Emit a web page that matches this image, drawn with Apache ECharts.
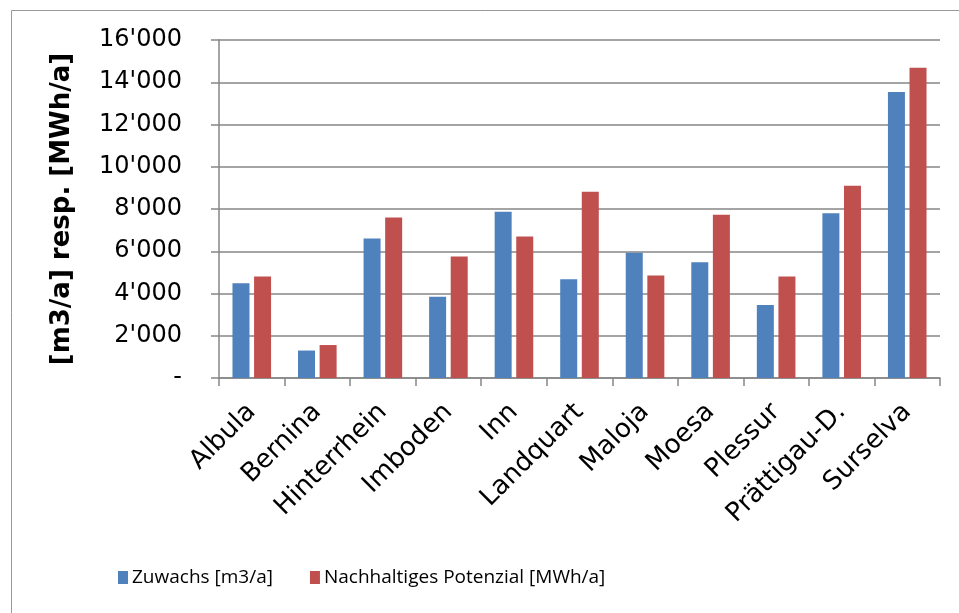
<!DOCTYPE html>
<html>
<head>
<meta charset="utf-8">
<script src="https://cdn.jsdelivr.net/npm/echarts@6/dist/echarts.min.js"></script>
<style>html,body{margin:0;padding:0;background:#fff}#c{width:959px;height:613px}</style>
</head>
<body>
<div id="c"></div>
<script>
const categories = ['Albula','Bernina','Hinterrhein','Imboden','Inn','Landquart','Maloja','Moesa','Plessur','Prättigau-D.','Surselva'];
const zuwachs = [4490, 1300, 6600, 3850, 7870, 4680, 5930, 5480, 3460, 7800, 13540];
const potenzial = [4800, 1560, 7600, 5750, 6700, 8820, 4850, 7730, 4800, 9100, 14690];
const seriesNames = ['Zuwachs [m3/a]', 'Nachhaltiges Potenzial [MWh/a]'];
const yAxisName = '[m3/a] resp. [MWh/a]';

const chart = echarts.init(document.getElementById('c'), null, {renderer: 'canvas'});
const fmt = v => v === 0 ? '-' : String(v).replace(/\B(?=(\d{3})+(?!\d))/g, "'");
const axisGray = '#868686';
chart.setOption({
  animation: false,
  backgroundColor: '#fff',
  graphic: [{
    type: 'rect', left: 9, top: 8, silent: true,
    shape: {x: 0.5, y: 0.5, width: 980, height: 640},
    style: {fill: 'none', stroke: '#999', lineWidth: 1}
  }],
  grid: {left: 219, top: 40, right: 19, bottom: 235, containLabel: false},
  legend: {
    data: seriesNames, left: 113, top: 563, itemWidth: 10, itemHeight: 13, itemGap: 37,
    icon: 'rect',
    textStyle: {fontFamily: 'Open Sans', fontSize: 19, color: '#000', padding: [0,0,0,-1]}
  },
  xAxis: {
    type: 'category', data: categories,
    axisLine: {lineStyle: {color: axisGray, width: 1.5}},
    axisTick: {show: true, length: 8, lineStyle: {color: axisGray, width: 1.5}},
    axisLabel: {rotate: 45, margin: 30, interval: 0, fontFamily: 'DejaVu Sans', fontSize: 26, color: '#000'}
  },
  yAxis: {
    type: 'value', min: 0, max: 16000, interval: 2000,
    name: yAxisName, nameLocation: 'middle', nameGap: 144, nameRotate: 90,
    nameTextStyle: {fontFamily: 'DejaVu Sans', fontWeight: 'bold', fontSize: 26, color: '#000'},
    axisLine: {show: true, lineStyle: {color: axisGray, width: 1.5}},
    axisTick: {show: true, length: 8, lineStyle: {color: axisGray, width: 1.5}},
    splitLine: {lineStyle: {color: axisGray, width: 1.5}},
    axisLabel: {margin: 37, formatter: fmt, fontFamily: 'DejaVu Sans', fontSize: 24, color: '#000'}
  },
  series: [
    {name: seriesNames[0], type: 'bar', data: zuwachs, barWidth: 17, barGap: '27%', itemStyle: {color: '#4F81BD'}},
    {name: seriesNames[1], type: 'bar', data: potenzial, barWidth: 17, itemStyle: {color: '#C0504D'}}
  ]
});
</script>
</body>
</html>
